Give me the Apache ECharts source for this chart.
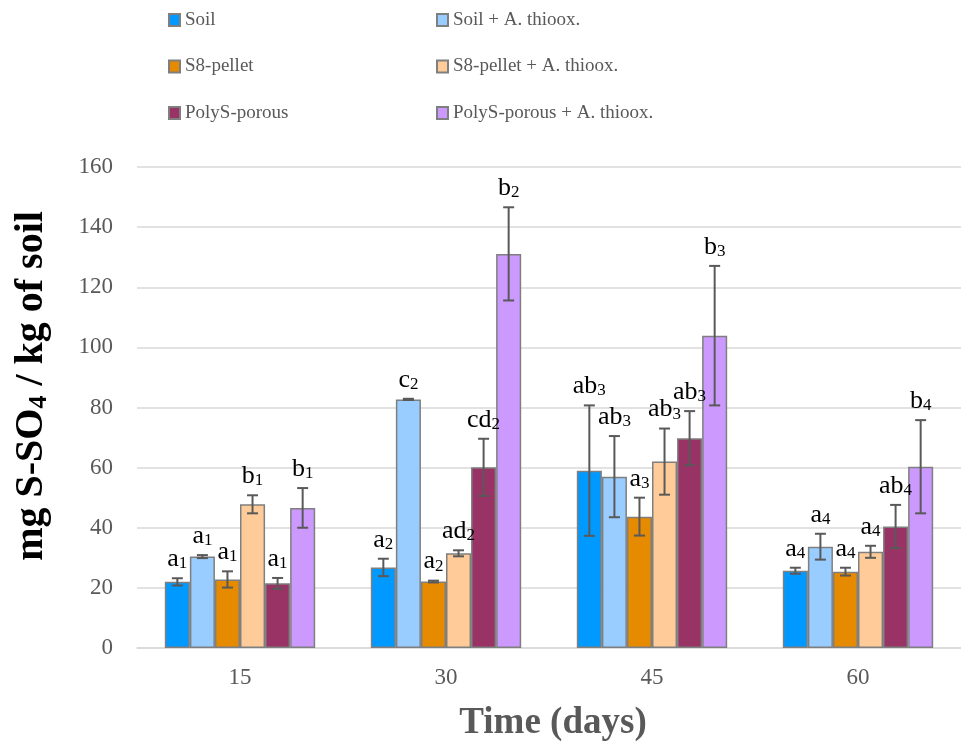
<!DOCTYPE html>
<html><head><meta charset="utf-8">
<script src="https://cdn.jsdelivr.net/npm/echarts@6/dist/echarts.min.js"></script>
<style>html,body{margin:0;padding:0;background:#fff}#c{width:961px;height:744px}</style>
</head><body><div id="c"></div>
<script>
const categories = ['15', '30', '45', '60'];
const subscripts = ['1', '2', '3', '4'];
const yTicks = [0, 20, 40, 60, 80, 100, 120, 140, 160];

const soil      = [22.0, 26.8, 59.0, 25.7];
const soilErr   = [1.2, 2.9, 21.7, 1.0];
const soilA     = [30.4, 82.7, 57.0, 33.7];
const soilAErr  = [0.5, 0.2, 13.5, 4.3];
const s8        = [22.8, 22.1, 43.7, 25.4];
const s8Err     = [2.7, 0.3, 6.3, 1.3];
const s8A       = [47.8, 31.5, 62.0, 32.0];
const s8AErr    = [3.0, 1.0, 11.0, 2.0];
const polyS     = [21.5, 60.1, 69.8, 40.4];
const polySErr  = [1.8, 9.5, 9.0, 7.2];
const polySA    = [46.6, 131.1, 103.9, 60.3];
const polySAErr = [6.6, 15.5, 23.2, 15.5];

const soilLet   = ['a', 'a', 'ab', 'a'];
const soilALet  = ['a', 'c', 'ab', 'a'];
const s8Let     = ['a', 'a', 'a', 'a'];
const s8ALet    = ['b', 'ad', 'ab', 'a'];
const polySLet  = ['a', 'cd', 'ab', 'ab'];
const polySALet = ['b', 'b', 'b', 'b'];

const names = ['Soil', 'Soil + A. thioox.', 'S8-pellet', 'S8-pellet + A. thioox.', 'PolyS-porous', 'PolyS-porous + A. thioox.'];
const colors = ['#0099FF', '#99CCFF', '#E68A00', '#FFCC99', '#993366', '#CC99FF'];
const values = [soil, soilA, s8, s8A, polyS, polySA];
const errors = [soilErr, soilAErr, s8Err, s8AErr, polySErr, polySAErr];
const letters = [soilLet, soilALet, s8Let, s8ALet, polySLet, polySALet];

const CAT_GAP = 0.27;
const serif = '"Liberation Serif", "Times New Roman", serif';

const errData = [];
const errLabels = [];
values.forEach((vals, s) => {
  vals.forEach((v, c) => {
    const e = errors[s][c];
    errData.push([c, v - e, v + e, s, v]);
    errLabels.push({ t: letters[s][c], sub: subscripts[c] });
  });
});

const barSeries = names.map((n, i) => ({
  name: n, type: 'bar', data: values[i],
  barGap: '0%', barCategoryGap: (CAT_GAP * 100) + '%',
  itemStyle: { color: colors[i], borderColor: '#7F7F7F', borderWidth: 1.5 },
  emphasis: { disabled: true }
}));

const errSeries = {
  type: 'custom', z: 10, silent: true,
  data: errData,
  encode: { x: 0, y: [1, 2] },
  renderItem: function (params, api) {
    const c = api.value(0), lo = api.value(1), hi = api.value(2), s = api.value(3), v = api.value(4);
    const band = api.size([1, 0])[0];
    const bw = band * (1 - CAT_GAP) / 6;
    const cx = api.coord([c, 0])[0] + (s - 2.5) * bw;
    const yLo = api.coord([c, lo])[1];
    const yHi = api.coord([c, hi])[1];
    const yV = api.coord([c, v])[1];
    const top = Math.min(yHi, yV);
    const cap = 5.5;
    const st = { stroke: '#595959', lineWidth: 2 };
    const lab = errLabels[params.dataIndex];
    return {
      type: 'group',
      children: [
        { type: 'line', shape: { x1: cx, y1: yLo, x2: cx, y2: yHi }, style: st },
        { type: 'line', shape: { x1: cx - cap, y1: yLo, x2: cx + cap, y2: yLo }, style: st },
        { type: 'line', shape: { x1: cx - cap, y1: yHi, x2: cx + cap, y2: yHi }, style: st },
        {
          type: 'text', x: cx, y: top - 6,
          style: {
            text: '{m|' + lab.t + '}{s|' + lab.sub + '}',
            align: 'center', verticalAlign: 'bottom',
            rich: {
              m: { fontFamily: serif, fontSize: 26, color: '#1F1F1F', lineHeight: 26, verticalAlign: 'bottom' },
              s: { fontFamily: serif, fontSize: 17, color: '#1F1F1F', lineHeight: 12, verticalAlign: 'bottom' }
            }
          }
        }
      ]
    };
  }
};

const legendCommon = {
  orient: 'vertical', itemWidth: 11, itemHeight: 12, itemGap: 22.5, padding: 0,
  icon: 'rect', selectedMode: false,
  textStyle: { fontFamily: serif, fontSize: 19, color: '#595959', lineHeight: 24 }
};

const chart = echarts.init(document.getElementById('c'), null, { renderer: 'canvas' });
chart.setOption({
  backgroundColor: '#ffffff',
  animation: false,
  legend: [
    Object.assign({ left: 168, top: 8, data: [names[0], names[2], names[4]] }, legendCommon),
    Object.assign({ left: 436, top: 8, data: [names[1], names[3], names[5]] }, legendCommon)
  ],
  grid: { left: 137, top: 167, width: 834, height: 481, containLabel: false },
  xAxis: {
    type: 'category', data: categories,
    axisLine: { show: true, lineStyle: { color: '#D9D9D9', width: 1.5 } },
    axisTick: { show: false },
    axisLabel: { fontFamily: serif, fontSize: 23, color: '#595959', margin: 18 }
  },
  yAxis: {
    type: 'value', min: yTicks[0], max: yTicks[yTicks.length - 1], interval: 20,
    axisLine: { show: false }, axisTick: { show: false },
    splitLine: { lineStyle: { color: '#D9D9D9', width: 1.5 } },
    axisLabel: { fontFamily: serif, fontSize: 23, color: '#595959', margin: 24 }
  },
  graphic: [
    {
      type: 'text', x: 32, y: 386, rotation: Math.PI / 2,
      style: {
        text: '{t|mg S-SO}{s|4}{t| / kg of soil}',
        align: 'center', verticalAlign: 'middle',
        rich: {
          t: { fontFamily: serif, fontWeight: 'bold', fontSize: 40, color: '#595959', lineHeight: 40, verticalAlign: 'bottom' },
          s: { fontFamily: serif, fontWeight: 'bold', fontSize: 26, color: '#595959', lineHeight: 16, verticalAlign: 'bottom' }
        }
      }
    },
    {
      type: 'text', x: 553, y: 723,
      style: {
        text: 'Time (days)', align: 'center', verticalAlign: 'middle',
        fontFamily: serif, fontWeight: 'bold', fontSize: 37, fill: '#595959'
      }
    }
  ],
  series: barSeries.concat([errSeries])
});
</script>
</body></html>
